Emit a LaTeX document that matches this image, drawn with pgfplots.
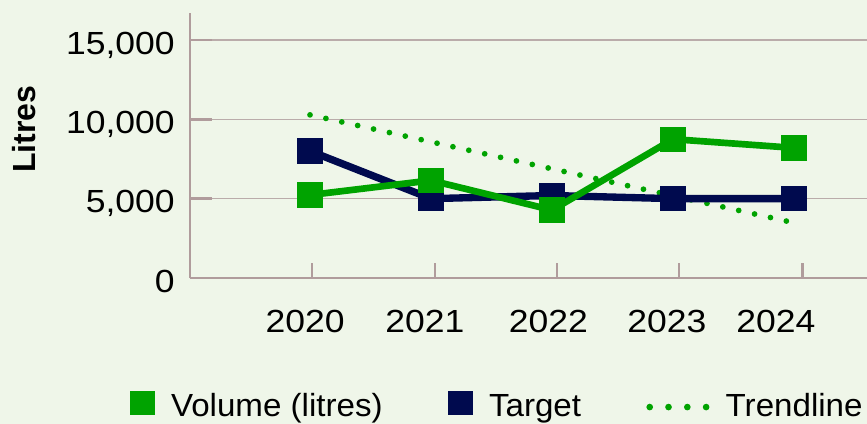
\documentclass[border=0pt]{standalone}
\usepackage{fontspec}
\setmainfont{Liberation Sans}
\newfontfamily\tickfont{Liberation Sans}[FakeStretch=1.11]
\newfontfamily\legfont{Liberation Sans}[FakeStretch=1.035]
\usepackage{pgfplots}
\pgfplotsset{compat=1.18}
\definecolor{bgc}{RGB}{239,246,233}
\definecolor{vgreen}{RGB}{0,163,0}
\definecolor{navyc}{RGB}{0,10,78}
\definecolor{axisc}{RGB}{176,156,156}
\definecolor{gridc}{RGB}{186,172,170}
\begin{document}
\begin{tikzpicture}
\fill[bgc, use as bounding box] (-142.5pt,-109.5pt) rectangle (507.75pt,208.5pt);
\begin{axis}[
  at={(0pt,0pt)}, anchor=south west,
  width=507.75pt, height=198.75pt, scale only axis,
  xmin=-0.992, xmax=4.603, ymin=0, ymax=16700,
  axis x line*=bottom, axis y line*=left,
  axis line style={line width=2pt, draw=axisc, -},
  tick align=inside,
  tick style={line width=2pt, draw=axisc},
  major tick length=16.5pt,
  xtick style={/pgfplots/major tick length=11.25pt},
  ytick={0,5000,10000,15000},
  ymajorgrids=true,
  major grid style={line width=1pt, draw=gridc},
  scaled y ticks=false,
  /pgf/number format/1000 sep={,},
  /pgf/number format/assume math mode=true,
  xtick={0.017,1.033,2.04,3.05,4.07},
  xticklabels={,,,,},
  extra x ticks={-0.04,0.95,1.97,2.95,3.85},
  extra x tick labels={2020,2021,2022,2023,2024},
  extra x tick style={major tick length=0pt, tick style={draw=none}},
  xticklabel style={font=\tickfont\fontsize{24}{28}\selectfont, anchor=base, inner sep=0pt, yshift=-40.5pt},
  yticklabel style={font=\tickfont\fontsize{24}{28}\selectfont, anchor=base east, inner sep=0pt, xshift=-11.25pt, yshift=-10.7pt},
  ylabel={Litres},
  ylabel style={font=\bfseries\fontsize{24}{28}\selectfont, at={(axis description cs:-0.2452,0.5623)}, anchor=center},
  legend columns=3,
  reverse legend,
  legend style={at={(axis description cs:-0.0886,-0.477)}, anchor=west, draw=none, fill=none,
    inner sep=0pt, outer sep=0pt, font=\legfont\fontsize{24}{28}\selectfont,
    nodes={inner sep=0pt, outer sep=0pt, anchor=base west},
    /tikz/every odd column/.append style={column sep=12pt},
    /tikz/every even column/.append style={column sep=49pt}},
]
\addplot[vgreen, line width=4.3pt, line cap=round, dash pattern=on 0pt off 12.2pt,
  legend image code/.code={\path[draw=vgreen, line width=5pt, line cap=round, dash pattern=on 0pt off 14.1pt] (2.5pt,6.75pt) -- (45pt,6.75pt);}]
  coordinates {(0,10280) (1,8580) (2,6880) (3,5180) (4,3480)};
\addlegendentry{Trendline}
\addplot[navyc, line width=5.5pt, line join=round, mark=square*, mark size=9.1pt, mark options={line width=0pt, fill=navyc},
  legend image code/.code={\path[fill=navyc, draw=none, line width=0pt] (0pt,1pt) rectangle (18.75pt,19pt);}]
  coordinates {(0,8000) (1,5000) (2,5200) (3,5000) (4,5000)};
\addlegendentry{Target}
\addplot[vgreen, line width=5pt, line join=round, mark=square*, mark size=9.1pt, mark options={line width=0pt, fill=vgreen},
  legend image code/.code={\path[fill=vgreen, draw=none, line width=0pt] (0pt,1pt) rectangle (18.75pt,19pt);}]
  coordinates {(0,5230) (1,6150) (2,4280) (3,8750) (4,8200)};
\addlegendentry{Volume (litres)}
\end{axis}
\end{tikzpicture}
\end{document}
